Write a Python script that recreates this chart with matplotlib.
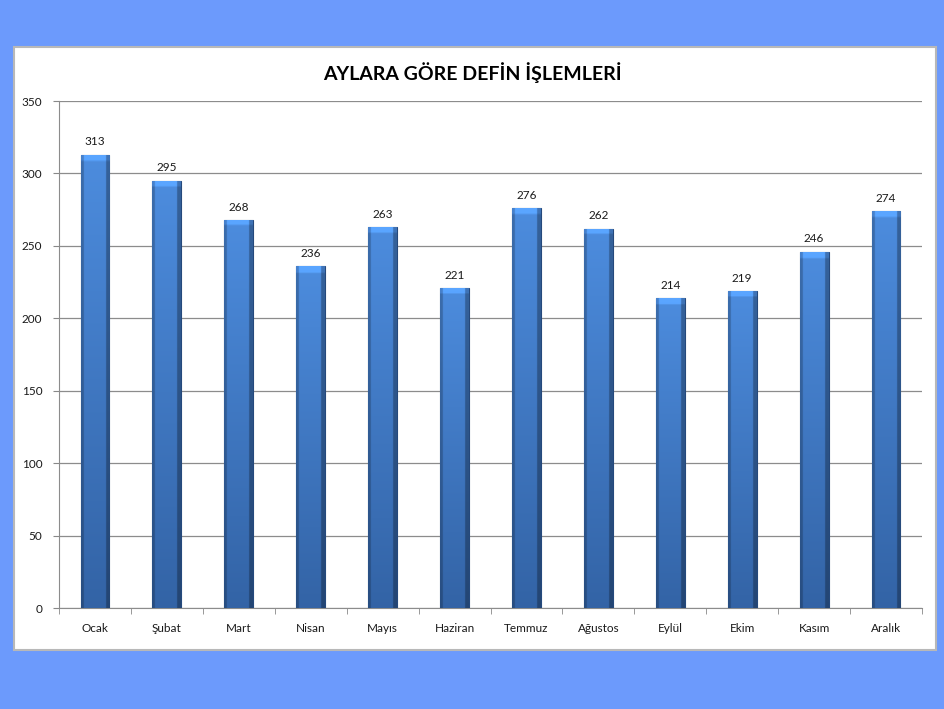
import numpy as np
import matplotlib.pyplot as plt
from matplotlib.patches import Rectangle

months = ['Ocak', 'Şubat', 'Mart', 'Nisan', 'Mayıs', 'Haziran',
          'Temmuz', 'Ağustos', 'Eylül', 'Ekim', 'Kasım', 'Aralık']
values = [313, 295, 268, 236, 263, 221, 276, 262, 214, 219, 246, 274]
yticks = [0, 50, 100, 150, 200, 250, 300, 350]
title = 'AYLARA GÖRE DEFİN İŞLEMLERİ'

plt.rcParams['font.family'] = ['Lato', 'DejaVu Sans']

fig = plt.figure(figsize=(9.45, 7.09), dpi=100)
fig.patch.set_facecolor('#6c9afc')

# white chart panel
panel = Rectangle((0.0148, 0.0832), 0.9757, 0.8505, transform=fig.transFigure,
                  facecolor='white', edgecolor='#b8b8b8', linewidth=1.5, zorder=-10)
fig.patches.append(panel)

ax = fig.add_axes([0.0624, 0.1424, 0.9133, 0.7151])
ax.set_facecolor('none')

x = np.arange(len(months))
bars = ax.bar(x, values, width=0.4, color='#3d7cd1', edgecolor='#25497c',
              linewidth=0.8, zorder=3)

# shading: flat face, dark side edges, light to dark top->bottom, bevelled cap
nx = 60
hx = np.linspace(0, 1, nx)
edge = np.ones(nx)
edge[hx < 0.1] = 0.78
edge[hx > 0.88] = 0.7
top_col = np.array([0.30, 0.55, 0.87])
bot_col = np.array([0.20, 0.39, 0.65])
for i, b in enumerate(bars):
    bx, by = b.get_x(), b.get_y()
    bw, bh = b.get_width(), b.get_height()
    ny = 200
    t = np.linspace(0, 1, ny)[:, None, None]  # 0 at top
    img = top_col * (1 - t) + bot_col * t
    img = img * edge[None, :, None]
    ncap = max(2, int(ny * 5 / bh))
    img[:ncap] = np.clip(img[:ncap] * 1.18, 0, 1)
    img = np.clip(img, 0, 1)
    im = ax.imshow(img, extent=[bx, bx + bw, by, by + bh], aspect='auto',
                   zorder=3, interpolation='bilinear')
    im.set_clip_path(b)
    ax.text(bx + bw / 2, by + bh + 5, str(values[i]),
            ha='center', va='bottom', fontsize=8.5, color='#1a1a1a', zorder=4)

ax.set_xlim(-0.5, len(months) - 0.5)
ax.set_ylim(0, 350)
ax.set_yticks(yticks)
ax.tick_params(axis='y', labelsize=8.5, length=4, color='#888888', pad=8,
               labelcolor='#1a1a1a')
ax.set_xticks(x)
ax.set_xticklabels(months)
ax.tick_params(axis='x', labelsize=8.5, length=0, pad=11, labelcolor='#1a1a1a')
ax.set_xticks(np.arange(-0.5, len(months)), minor=True)
ax.tick_params(axis='x', which='minor', length=4, color='#888888')

ax.yaxis.grid(True, color='#8c8c8c', linewidth=0.9, zorder=1)
ax.set_axisbelow(True)
for s in ['top', 'right']:
    ax.spines[s].set_visible(False)
for s in ['left', 'bottom']:
    ax.spines[s].set_color('#8c8c8c')

fig.text(0.5, 0.898, title, ha='center', va='center', fontsize=14,
         fontweight='bold', color='black')

fig.savefig('out.png', dpi=100, facecolor=fig.get_facecolor())
